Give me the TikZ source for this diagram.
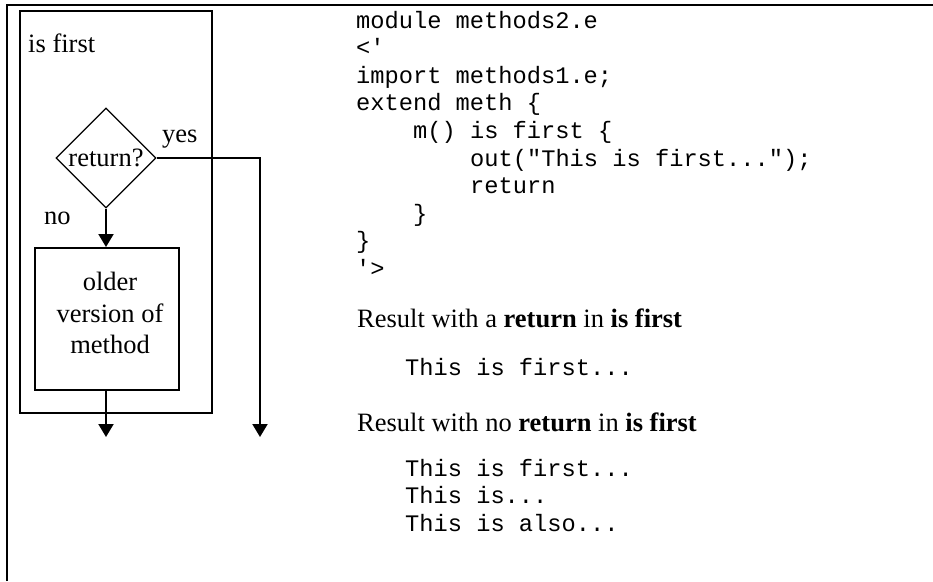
\documentclass[tikz,border=0pt]{standalone}
\usepackage{fontspec}
\setmainfont{Liberation Serif}
\setmonofont{Liberation Mono}
\usetikzlibrary{shapes.geometric,arrows.meta}
\begin{document}
\begin{tikzpicture}[x=1pt,y=-1pt,
  serif/.style={font=\fontsize{26.5}{31.5}\selectfont, inner sep=0pt, anchor=base west},
  serifc/.style={font=\fontsize{26.5}{31.5}\selectfont, inner sep=0pt, anchor=base},
  mono/.style={font=\fontsize{23.7}{27.6}\selectfont\ttfamily, inner sep=0pt, anchor=base west},
  heavy/.style={line width=2.3pt},
  arr/.style={line width=2pt,-{Triangle[width=15pt,length=13pt]}},
  decision/.style={diamond, draw, line width=1.2pt, minimum width=100pt, minimum height=100pt,
                   inner sep=0pt, aspect=1, font=\fontsize{26.5}{31.5}\selectfont},
  procbox/.style={draw, line width=2pt, minimum width=144pt, minimum height=142pt, inner sep=0pt},
  framebox/.style={draw, heavy, minimum width=192pt, minimum height=402pt, inner sep=0pt}]
\useasboundingbox (0,0) rectangle (933,581);

% outer open frame
\draw[heavy] (7,581) -- (7,5) -- (933,5);

% "is first" frame
\node[framebox] (frame) at (116,212) {};
\node[serif] (lblfirst) at (28,52) {is first};

% decision and older method
\node[decision] (dec) at (106,158) {return?};
\node[procbox] (old) at (107,319) {};
\node[serifc] (old1) at (110,290) {older};
\node[serifc] (old2) at (110,322) {version of};
\node[serifc] (old3) at (110,353) {method};

\node[serif] (yes) at (162,142) {yes};
\node[serif] (no) at (44,224) {no};

\coordinate (outA) at (106,437);
\coordinate (outB) at (260,437);
\draw[arr] (dec.south) -- (dec.south |- old.north);
\draw[arr] (outA |- old.south) -- (outA);
\draw[arr] (dec.east) -| (outB);

% code
\node[mono] (c0) at (356,28) {module methods2.e};
\node[mono] (c1) at (356,55.6) {<'};
\node[mono] (c2) at (356,83.2) {import methods1.e;};
\node[mono] (c3) at (356,110.8) {extend meth \{};
\node[mono] (c4) at (413,138.4) {m() is first \{};
\node[mono] (c5) at (470,166) {out("This is first...");};
\node[mono] (c6) at (470,193.6) {return};
\node[mono] (c7) at (413,221.2) {\}};
\node[mono] (c8) at (356,248.8) {\}};
\node[mono] (c9) at (356,276.4) {'>};

% results
\node[serif] (r1) at (357,327) {Result with a \textbf{return} in \textbf{is first}};
\node[mono] (r1a) at (405,375) {This is first...};
\node[serif] (r2) at (357,431) {Result with no \textbf{return} in \textbf{is first}};
\node[mono] (r2a) at (405,476) {This is first...};
\node[mono] (r2b) at (405,503.5) {This is...};
\node[mono] (r2c) at (405,531) {This is also...};
\end{tikzpicture}
\end{document}
